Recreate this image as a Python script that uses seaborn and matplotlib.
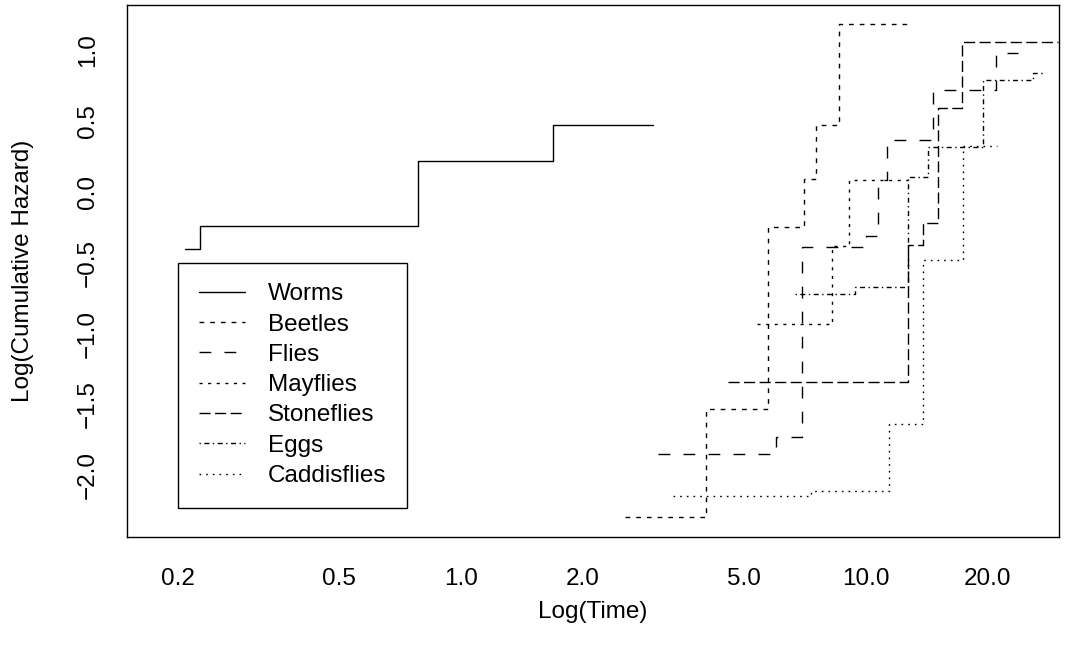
import numpy as np
import pandas as pd
import seaborn as sns
import matplotlib
matplotlib.use("Agg")
import matplotlib.pyplot as plt
from matplotlib.ticker import NullLocator

# step curves: event times (last entry = end of follow-up) and log cumulative hazard
worms_t = [0.208, 0.227, 0.783, 1.69, 2.98]
worms_y = [-0.405, -0.241, 0.220, 0.473, 0.473]
beetles_t = [2.54, 4.03, 5.73, 7.03, 7.53, 8.58, 13.0]
beetles_y = [-2.297, -1.534, -0.251, 0.088, 0.471, 1.184, 1.184]
flies_t = [3.06, 5.98, 6.94, 10.0, 10.73, 11.25, 14.66, 20.9, 23.7]
flies_y = [-1.851, -1.731, -0.390, -0.311, 0.083, 0.365, 0.718, 0.977, 0.977]
mayflies_t = [5.38, 8.26, 9.08, 12.72]
mayflies_y = [-0.929, -0.381, 0.083, 0.083]
stoneflies_t = [4.56, 12.72, 13.85, 15.06, 17.23, 29.8]
stoneflies_y = [-1.343, -0.376, -0.221, 0.589, 1.059, 1.059]
eggs_t = [6.68, 9.39, 12.72, 14.25, 19.42, 25.84, 27.35]
eggs_y = [-0.724, -0.671, 0.106, 0.318, 0.788, 0.840, 0.840]
caddis_t = [3.33, 7.30, 11.40, 13.80, 17.33, 21.06]
caddis_y = [-2.146, -2.111, -1.638, -0.482, 0.323, 0.323]

groups = ["Worms", "Beetles", "Flies", "Mayflies", "Stoneflies", "Eggs", "Caddisflies"]
times = [worms_t, beetles_t, flies_t, mayflies_t, stoneflies_t, eggs_t, caddis_t]
values = [worms_y, beetles_y, flies_y, mayflies_y, stoneflies_y, eggs_y, caddis_y]

xticks = [0.2, 0.5, 1.0, 2.0, 5.0, 10.0, 20.0]
xtick_labels = ["0.2", "0.5", "1.0", "2.0", "5.0", "10.0", "20.0"]
yticks = [-2.0, -1.5, -1.0, -0.5, 0.0, 0.5, 1.0]
ytick_labels = ["\u22122.0", "\u22121.5", "\u22121.0", "\u22120.5", "0.0", "0.5", "1.0"]

linestyles = [
    "-",
    (0, (3.4, 4.3)),
    (0, (8.5, 9.5)),
    (0, (2.2, 4.0)),
    (0, (8.0, 3.2)),
    (0, (1.0, 2.5, 3.6, 2.5)),
    (0, (1.2, 3.6)),
]

sns.set_theme(style="white")
plt.rcParams['font.family'] = ['Liberation Sans', 'DejaVu Sans']
plt.rcParams['text.color'] = 'black'
plt.rcParams['axes.labelcolor'] = 'black'
fs = 17.5

fig = plt.figure(figsize=(10.86, 6.61), dpi=100)
ax = fig.add_axes([127/1086, (661-537)/661, 932/1086, 532.3/661])
ax.set_xscale('log')

handles = []
for name, t, y, ls in zip(groups, times, values, linestyles):
    df = pd.DataFrame({'time': t, 'chaz': y})
    sns.lineplot(data=df, x='time', y='chaz', ax=ax, color='black', lw=1.0,
                 linestyle=ls, drawstyle='steps-post', estimator=None, legend=False)
    handles.append(ax.lines[-1])

ax.set_xlim(0.1497, 29.96)
ax.set_ylim(-2.435, 1.32)

ax.set_xticks(xticks)
ax.set_xticklabels(xtick_labels)
ax.xaxis.set_minor_locator(NullLocator())
ax.set_yticks(yticks)
ax.set_yticklabels(ytick_labels, rotation=90, va='center')
ax.tick_params(direction='out', length=10, width=1, colors='black', labelsize=fs)
ax.tick_params(axis='x', pad=12)
ax.tick_params(axis='y', pad=10)

for sp in ax.spines.values():
    sp.set_color('black')
    sp.set_linewidth(1.0)

ax.set_xlabel("Log(Time)", fontsize=fs, va='center', color='black')
ax.xaxis.set_label_coords(0.5, (537-612)/532.3)
ax.set_ylabel("Log(Cumulative Hazard)", fontsize=fs, va='center', color='black')
ax.yaxis.set_label_coords((23-127)/932, 0.5)

leg = ax.legend(handles, groups, loc='upper left', bbox_to_anchor=(0.2, -0.5),
                bbox_transform=ax.transData, borderaxespad=0, frameon=True,
                fancybox=False, edgecolor='black', framealpha=1,
                handlelength=1.9, handletextpad=0.95, labelspacing=0.34,
                borderpad=0.85, fontsize=fs)
leg.get_frame().set_linewidth(1.0)
for txt in leg.get_texts():
    txt.set_color('black')

fig.savefig("out.png", dpi=100, facecolor='white')
